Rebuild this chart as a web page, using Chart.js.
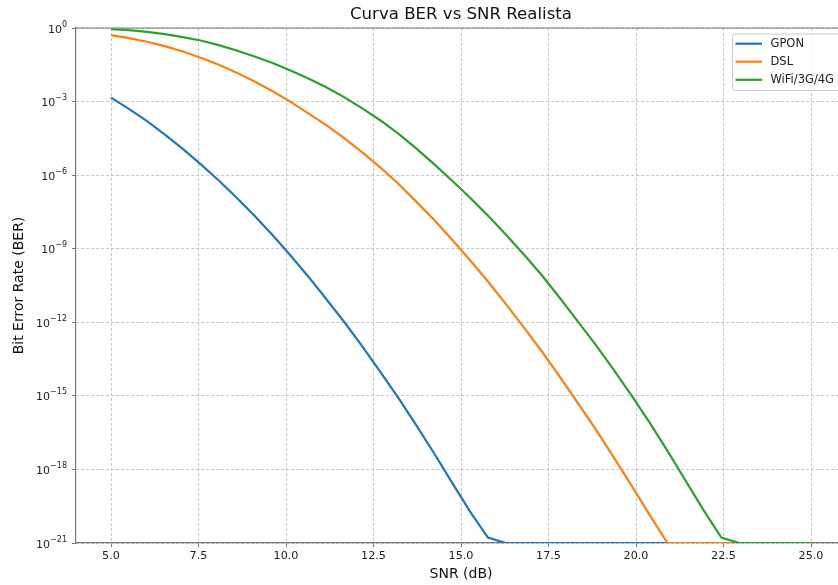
<!DOCTYPE html>
<html>
<head>
<meta charset="utf-8">
<script src="https://cdn.jsdelivr.net/npm/chart.js@4.4.1/dist/chart.umd.min.js"></script>
<style>
html,body{margin:0;padding:0;background:#fff;overflow:hidden}
#wrap{width:838px;height:585px;overflow:hidden}
</style>
</head>
<body>
<div id="wrap"><canvas id="c" width="880" height="585"></canvas></div>
<script>
// SNR axis (dB), 40 samples from 5 to 25
const snrDb=[5.00,5.51,6.03,6.54,7.05,7.56,8.08,8.59,9.10,9.62,10.13,10.64,11.15,11.67,12.18,12.69,13.21,13.72,14.23,14.74,15.26,15.77,16.28,16.79,17.31,17.82,18.33,18.85,19.36,19.87,20.38,20.90,21.41,21.92,22.44,22.95,23.46,23.97,24.49,25.00];
// log10(BER) per technology, floored at 1e-21
const gponLog=[-2.84,-3.30,-3.80,-4.35,-4.93,-5.55,-6.22,-6.92,-7.66,-8.45,-9.28,-10.14,-11.05,-12.00,-12.98,-14.01,-15.08,-16.19,-17.34,-18.53,-19.72,-20.78,-21,-21,-21,-21,-21,-21,-21,-21,-21,-21,-21,-21,-21,-21,-21,-21,-21,-21];
const dslLog=[-0.29,-0.41,-0.56,-0.74,-0.96,-1.21,-1.50,-1.82,-2.18,-2.58,-3.01,-3.48,-3.96,-4.50,-5.07,-5.68,-6.35,-7.08,-7.82,-8.62,-9.47,-10.34,-11.25,-12.20,-13.19,-14.22,-15.28,-16.37,-17.50,-18.65,-19.83,-21,-21,-21,-21,-21,-21,-21,-21,-21];
const wifiLog=[-0.05,-0.09,-0.16,-0.25,-0.37,-0.51,-0.70,-0.92,-1.16,-1.43,-1.73,-2.06,-2.42,-2.83,-3.28,-3.76,-4.31,-4.91,-5.55,-6.22,-6.92,-7.65,-8.42,-9.23,-10.08,-11.00,-11.95,-12.92,-13.93,-14.98,-16.07,-17.24,-18.44,-19.64,-20.78,-21,-21,-21,-21,-21];
const seriesNames=['GPON','DSL','WiFi/3G/4G'];
const seriesColors=['#1f77b4','#ff7f0e','#2ca02c'];
const xTicks=[5,7.5,10,12.5,15,17.5,20,22.5,25];
const yExps=[0,-3,-6,-9,-12,-15,-18,-21];

const FONT='"DejaVu Sans", sans-serif';
const pts=logs=>snrDb.map((x,i)=>({x:x,y:Math.pow(10,logs[i])}));
const ds=(i,logs)=>({label:seriesNames[i],data:pts(logs),borderColor:seriesColors[i],backgroundColor:seriesColors[i],
  borderWidth:2.2,pointRadius:0,tension:0,fill:false,order:3-i});

const decor={
  id:'decor',
  afterDraw(chart){
    const c=chart.ctx,a=chart.chartArea,ys=chart.scales.y;
    c.save();
    // top and right spines
    c.strokeStyle='#777';c.lineWidth=1.2;
    c.beginPath();c.moveTo(a.left,a.top);c.lineTo(a.right,a.top);c.stroke();
    c.beginPath();c.moveTo(a.right,a.top);c.lineTo(a.right,a.bottom);c.stroke();
    // y tick labels as 10^n
    c.fillStyle='#222';c.textBaseline='alphabetic';
    yExps.forEach(e=>{
      const py=ys.getPixelForValue(Math.pow(10,e));
      const ex=e===0?'0':'\u2212'+(-e);
      c.font='8px '+FONT;const we=c.measureText(ex).width;
      c.font='11px '+FONT;const wb=c.measureText('10').width;
      const right=a.left-9;
      c.textAlign='left';
      c.fillText('10',right-we-wb,py+4.5);
      c.font='8px '+FONT;
      c.fillText(ex,right-we,py-1.5);
    });
    // title and axis labels
    const cx=(a.left+a.right)/2;
    c.textAlign='center';c.textBaseline='middle';c.fillStyle='#111';
    c.font='16.6px '+FONT;
    c.fillText('Curva BER vs SNR Realista',cx,15);
    c.font='14px '+FONT;
    c.fillText('SNR (dB)',cx,574);
    c.save();c.translate(19,(a.top+a.bottom)/2);c.rotate(-Math.PI/2);
    c.fillText('Bit Error Rate (BER)',0,0);c.restore();
    // legend
    const bx=732.5,by=34,bw=112,bh=56.5;
    c.fillStyle='rgba(255,255,255,0.85)';c.strokeStyle='#cccccc';c.lineWidth=1;
    c.beginPath();c.roundRect(bx,by,bw,bh,3);c.fill();c.stroke();
    c.font='11.5px '+FONT;c.textAlign='left';c.textBaseline='middle';
    const rows=[43.7,61.7,79.8];
    chart.data.datasets.forEach((d,i)=>{
      c.strokeStyle=d.borderColor;c.lineWidth=2.2;
      c.beginPath();c.moveTo(735.5,rows[i]);c.lineTo(762,rows[i]);c.stroke();
      c.fillStyle='#222';c.fillText(d.label,770.5,rows[i]+0.5);
    });
    c.restore();
  }
};

new Chart(document.getElementById('c'),{
  type:'line',
  data:{datasets:[ds(0,gponLog),ds(1,dslLog),ds(2,wifiLog)]},
  options:{
    responsive:false,animation:false,
    layout:{padding:{top:28,right:34,left:0,bottom:0}},
    plugins:{legend:{display:false},tooltip:{enabled:false},title:{display:false}},
    scales:{
      x:{type:'linear',min:4,max:26,
        afterBuildTicks:s=>{s.ticks=xTicks.map(v=>({value:v}));},
        afterFit:s=>{s.height=42;},
        ticks:{color:'#222',font:{family:FONT,size:11.2},padding:2.5,maxRotation:0,callback:v=>v.toFixed(1)},
        grid:{color:'#b9b9b9',lineWidth:0.8,tickColor:'#777',tickLength:4,tickBorderDash:[],tickWidth:1},
        border:{color:'#777',width:1.2,dash:[3,2]}
      },
      y:{type:'logarithmic',min:1e-21,max:1,
        afterBuildTicks:s=>{s.ticks=yExps.map(e=>({value:Math.pow(10,e)}));},
        afterFit:s=>{s.width=76;},
        ticks:{display:false},
        grid:{color:'#b9b9b9',lineWidth:0.8,tickColor:'#777',tickLength:4,tickBorderDash:[],tickWidth:1},
        border:{color:'#777',width:1.2,dash:[3,2]}
      }
    }
  },
  plugins:[decor]
});
</script>
</body>
</html>
